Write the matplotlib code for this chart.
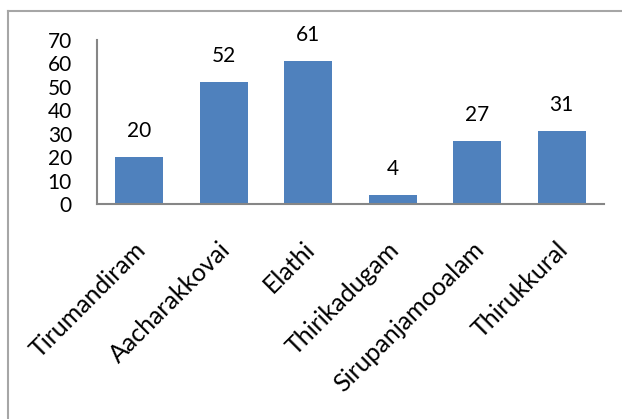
import matplotlib
matplotlib.use("Agg")
import matplotlib.pyplot as plt
import matplotlib.transforms as mtransforms
from matplotlib.lines import Line2D

# chart data
categories = ["Tirumandiram", "Aacharakkovai", "Elathi", "Thirikadugam",
              "Sirupanjamooalam", "Thirukkural"]
values = [20, 52, 61, 4, 27, 31]
y_ticks = [0, 10, 20, 30, 40, 50, 60, 70]

plt.rcParams['font.family'] = ['Lato', 'DejaVu Sans']

fig = plt.figure(figsize=(6.22, 4.19), dpi=100)
ax = fig.add_axes([97 / 622, 1 - 204 / 419, (604 - 97) / 622, (204 - 40) / 419])

x = list(range(len(categories)))
bars = ax.bar(x, values, width=0.57, color="#4F81BD")

for xi, v in zip(x, values):
    ax.annotate(str(v), (xi, v), xytext=(0, 26), textcoords="offset pixels",
                ha="center", va="center", fontsize=15, color="black")

ax.set_xlim(-0.5, len(categories) - 0.5)
ax.set_ylim(0, 70)
ax.set_yticks(y_ticks)
ax.set_yticklabels([str(t) for t in y_ticks], fontsize=15)
ax.set_xticks(x)
ax.set_xticklabels(categories, fontsize=18, rotation=45, ha="right",
                   va="center", rotation_mode="anchor")
ax.tick_params(axis="y", length=0, pad=18)
ax.tick_params(axis="x", length=0, pad=30)

# nudge category labels slightly right
shift = mtransforms.ScaledTranslation(3 / 100, 0, fig.dpi_scale_trans)
for lbl in ax.get_xticklabels():
    lbl.set_transform(lbl.get_transform() + shift)

for side in ["top", "right"]:
    ax.spines[side].set_visible(False)
for side in ["left", "bottom"]:
    ax.spines[side].set_color("#868686")
    ax.spines[side].set_linewidth(1.5)

# outer chart frame (only top and left edges are visible)
fig.add_artist(Line2D([8 / 622, 8 / 622], [0, 1 - 11 / 419], color="#A6A6A6",
                      lw=1.5, transform=fig.transFigure))
fig.add_artist(Line2D([8 / 622, 1], [1 - 11 / 419, 1 - 11 / 419], color="#A6A6A6",
                      lw=1.5, transform=fig.transFigure))

fig.savefig("out.png", dpi=100)
